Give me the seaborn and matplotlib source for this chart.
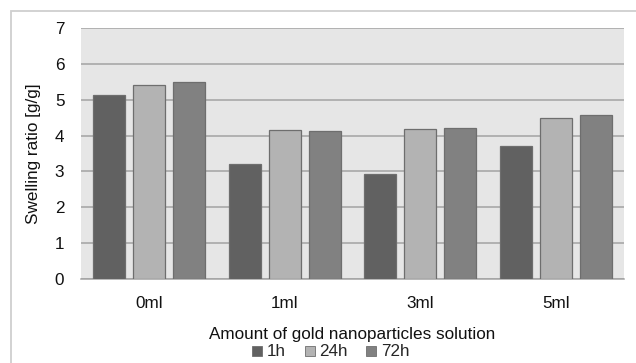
import matplotlib
matplotlib.use("Agg")
import matplotlib.pyplot as plt
from matplotlib.patches import Rectangle
from matplotlib.lines import Line2D
import seaborn as sns
import pandas as pd

categories = ["0ml", "1ml", "3ml", "5ml"]
times = ["1h", "24h", "72h"]
swell_1h = [5.13, 3.21, 2.93, 3.72]
swell_24h = [5.42, 4.15, 4.17, 4.50]
swell_72h = [5.49, 4.12, 4.22, 4.56]
y_ticks = [0, 1, 2, 3, 4, 5, 6, 7]

rows = []
for t, vals in zip(times, [swell_1h, swell_24h, swell_72h]):
    for c, v in zip(categories, vals):
        rows.append({"amount": c, "time": t, "ratio": v})
df = pd.DataFrame(rows)

sns.set_style("white")
plt.rcParams["font.family"] = ["Liberation Sans", "DejaVu Sans"]

palette = {"1h": "#616161", "24h": "#b3b3b3", "72h": "#818181"}
FS = 12.3

W, H = 636, 363
fig = plt.figure(figsize=(W / 100, H / 100), dpi=100)
# outer chart frame
fig.patches.append(Rectangle((11 / W, -0.1), 1.2, 1 - 11 / H + 0.1, transform=fig.transFigure,
                             fill=False, edgecolor="#cfcfcf", linewidth=1.3, zorder=0))

ax = fig.add_axes([81 / W, 1 - 279 / H, (624 - 81) / W, (279 - 28) / H])
ax.set_facecolor("#e6e6e6")

sns.barplot(data=df, x="amount", y="ratio", hue="time", order=categories, hue_order=times,
            palette=palette, width=0.885, gap=0.2, edgecolor="#6e6e6e", linewidth=0.9,
            saturation=1, ax=ax, legend=False, zorder=3)

ax.set_ylim(0, 7)
ax.set_xlim(-0.5, 3.5)
ax.set_yticks(y_ticks)
ax.yaxis.grid(True, color="#a3a3a3", linewidth=1.1, zorder=1)
ax.set_axisbelow(True)
for s in ["top", "right", "left"]:
    ax.spines[s].set_visible(False)
ax.spines["bottom"].set_color("#a3a3a3")
ax.spines["bottom"].set_linewidth(1.1)
ax.tick_params(axis="both", length=0, labelsize=FS, colors="#111111")
ax.tick_params(axis="y", pad=12)
ax.tick_params(axis="x", pad=12)
ax.set_ylabel("Swelling ratio [g/g]", fontsize=FS, color="#111111", labelpad=10)
ax.set_xlabel("Amount of gold nanoparticles solution", fontsize=FS, color="#111111", labelpad=12)

handles = [Line2D([], [], marker="s", linestyle="none", markersize=7,
                  markerfacecolor=palette[t], markeredgecolor="#6e6e6e", markeredgewidth=0.6)
           for t in times]
fig.legend(handles, times, loc="center", bbox_to_anchor=(329 / W, 1 - 352 / H), ncol=3,
           frameon=False, fontsize=FS, handletextpad=0.05, columnspacing=0.9,
           handlelength=1.0, borderpad=0)

fig.savefig("out.png", dpi=100, facecolor="white")
